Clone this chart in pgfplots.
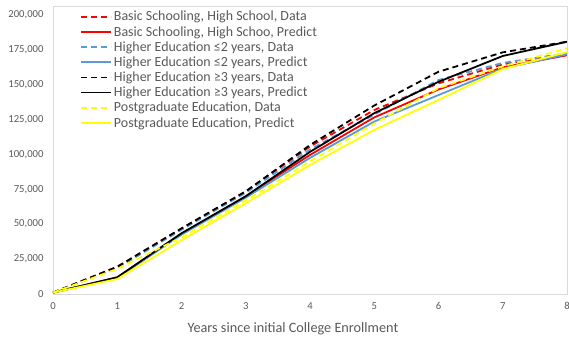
\documentclass[border=0pt]{standalone}
\usepackage{pgfplots}
\pgfplotsset{compat=1.18}
\usepackage{fontspec}
\setmainfont{Carlito}
\definecolor{txt}{RGB}{89,89,89}
\definecolor{frame}{RGB}{217,217,217}
\definecolor{xblue}{RGB}{91,155,213}
\definecolor{xyellow}{RGB}{255,255,0}
\newcommand{\lt}[1]{\textcolor{txt}{#1}}
\begin{document}
\begin{tikzpicture}
\useasboundingbox (-53bp,-43bp) rectangle (516bp,294bp);
\begin{axis}[
  at={(0,0)}, anchor=south west,
  scale only axis, width=514bp, height=288bp,
  xmin=0, xmax=8, ymin=0, ymax=206300,
  xtick={0,1,...,8},
  ytick={0,25000,...,200000},
  tick style={draw=none},
  axis line style={draw=frame},
  /pgf/number format/.cd, fixed, 1000 sep={,}, assume math mode=true,
  /pgfplots/.cd,
  scaled y ticks=false,
  tick label style={font=\fontsize{10.7}{13}\selectfont, text=txt},
  yticklabel style={xshift=-6bp},
  xticklabel style={yshift=-5bp},
  xlabel={Years since initial College Enrollment},
  xlabel style={font=\fontsize{14.3}{16}\selectfont, text=txt, yshift=-6bp, xshift=-17bp},
  legend style={at={(24bp,287bp)}, anchor=north west, draw=none, fill=none,
    font=\fontsize{14}{17}\selectfont, row sep=0bp,
    /tikz/every even column/.append style={column sep=0bp}},
  legend cell align=left,
  legend image code/.code={\draw[#1] (0bp,0bp) -- (30bp,0bp);},
  every axis plot/.append style={line width=1.8bp},
]
\addplot[red, dash pattern=on 6bp off 4bp] coordinates {(0,1000) (1,19500) (2,46800) (3,73500) (4,105600) (5,131800) (6,150900) (7,164500) (8,172000)};
\addlegendentry{\lt{Basic Schooling, High School, Data}}
\addplot[red] coordinates {(0,1000) (1,11800) (2,43000) (3,70000) (4,99600) (5,126500) (6,146500) (7,162400) (8,171000)};
\addlegendentry{\lt{Basic Schooling, High Schoo, Predict}}
\addplot[xblue, dash pattern=on 6bp off 4bp] coordinates {(0,1000) (1,18500) (2,46000) (3,72500) (4,103500) (5,128500) (6,153300) (7,165500) (8,172500)};
\addlegendentry{\lt{Higher Education ≤2 years, Data}}
\addplot[xblue] coordinates {(0,1000) (1,11500) (2,42500) (3,69000) (4,97500) (5,123500) (6,142500) (7,161500) (8,171700)};
\addlegendentry{\lt{Higher Education ≤2 years, Predict}}
\addplot[black, dash pattern=on 6bp off 4bp] coordinates {(0,1000) (1,19500) (2,47000) (3,73500) (4,106700) (5,135000) (6,159200) (7,173100) (8,180700)};
\addlegendentry{\lt{Higher Education ≥3 years, Data}}
\addplot[black] coordinates {(0,1000) (1,12000) (2,43500) (3,70000) (4,101800) (5,129500) (6,152000) (7,170500) (8,180700)};
\addlegendentry{\lt{Higher Education ≥3 years, Predict}}
\addplot[xyellow, dash pattern=on 6bp off 4bp] coordinates {(0,1000) (1,18000) (2,40500) (3,67000) (4,95000) (5,122000) (6,147400) (7,163000) (8,176000)};
\addlegendentry{\lt{Postgraduate Education, Data}}
\addplot[xyellow] coordinates {(0,1000) (1,10700) (2,38500) (3,65000) (4,92400) (5,117500) (6,139000) (7,161000) (8,173300)};
\addlegendentry{\lt{Postgraduate Education, Predict}}
\end{axis}
\end{tikzpicture}
\end{document}
